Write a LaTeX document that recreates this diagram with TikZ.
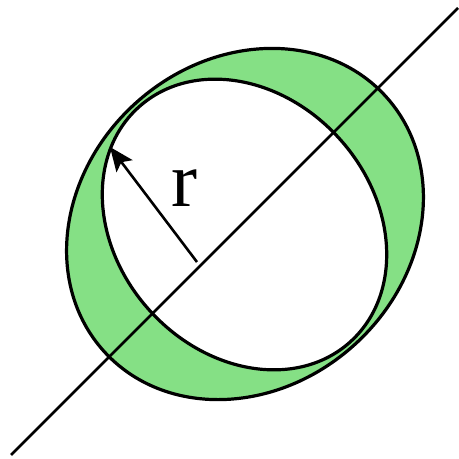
\documentclass[tikz,border=0pt]{standalone}
\usepackage{fontspec}
\setmainfont{Liberation Serif}
\usetikzlibrary{arrows.meta}
\definecolor{ringgreen}{RGB}{133,224,133}
\begin{document}
\begin{tikzpicture}[x=1pt,y=1pt,
  curve/.style={line width=3.2pt, draw=black},
  axisline/.style={line width=2.6pt, draw=black},
  radius arrow/.style={line width=2.6pt, draw=black, -{Stealth[length=24pt,width=20pt,inset=5pt]}},
  label/.style={inner sep=0pt, font=\fontsize{78pt}{78pt}\selectfont}]
\useasboundingbox (0,0) rectangle (459,459);
\coordinate (c) at (245,235);
\coordinate (ci) at (244.5,234.5);
\coordinate (l1) at (11,4);
\coordinate (l2) at (458,451);
\coordinate (rstart) at (197,197);
\coordinate (rtip) at (110,312);
% ring
\fill[ringgreen, rotate around={42:(c)}] (c) ellipse (190pt and 163pt);
\fill[white, rotate around={-48:(ci)}] (ci) ellipse (158pt and 128pt);
\draw[curve, rotate around={42:(c)}] (c) ellipse (190pt and 163pt);
\draw[curve, rotate around={-48:(ci)}] (ci) ellipse (158pt and 128pt);
% line
\draw[axisline] (l1) -- (l2);
% radius
\draw[radius arrow] (rstart) -- (rtip);
\node[label] (r) at (184,270.5) {r};
\end{tikzpicture}
\end{document}
